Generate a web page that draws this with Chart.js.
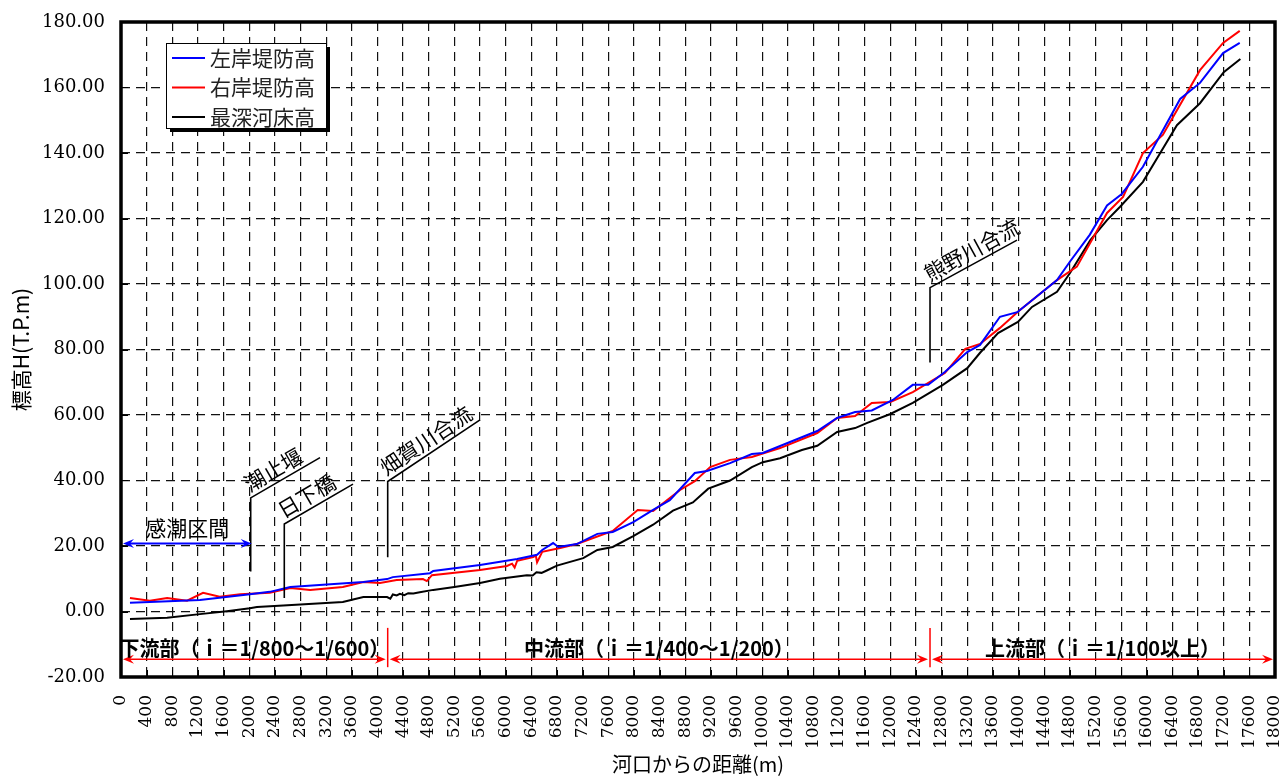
<!DOCTYPE html>
<html>
<head>
<meta charset="utf-8">
<script src="https://cdn.jsdelivr.net/npm/chart.js@4.4.0/dist/chart.umd.min.js"></script>
<style>
  html, body { margin: 0; padding: 0; background: #fff; }
</style>
</head>
<body>
<canvas id="mycanvas" width="1285" height="776"></canvas>
<script>
// distance from river mouth (m) and elevation (T.P.m)
var leftDist = [140, 450, 1230, 2010, 2320, 2640, 3780, 4150, 4240, 4820, 4870, 5600, 6180, 6490, 6570, 6740, 6820, 7110, 7430, 7670, 7990, 8300, 8560, 8950, 9140, 9500, 9840, 10010, 10860, 11170, 11450, 11710, 12040, 12350, 12590, 12850, 13200, 13400, 13710, 13980, 14600, 14800, 15110, 15380, 15610, 15940, 16520, 16830, 17190, 17450];
var leftH = [2.7, 2.9, 3.5, 5.3, 6.0, 7.5, 9.0, 9.9, 10.5, 11.7, 12.4, 14.2, 16.0, 17.3, 18.8, 20.9, 19.7, 20.6, 23.7, 24.3, 27.3, 31.0, 34.0, 42.3, 42.9, 45.3, 48.1, 48.4, 55.1, 59.1, 60.9, 61.4, 64.6, 69.2, 69.2, 73.1, 79.2, 81.4, 90.0, 91.4, 101.2, 106.8, 115.0, 124.0, 127.5, 135.8, 156.5, 161.4, 170.5, 173.6];

var rightDist = [140, 450, 720, 1030, 1280, 1540, 1860, 2320, 2640, 2950, 3460, 3780, 4040, 4300, 4710, 4770, 4850, 5600, 6020, 6100, 6140, 6180, 6430, 6470, 6490, 6570, 6850, 7110, 7670, 8060, 8300, 8720, 8950, 9190, 9500, 9840, 10280, 10860, 11170, 11450, 11710, 12000, 12350, 12850, 13170, 13400, 13710, 13990, 14600, 14910, 15380, 15630, 15940, 16250, 16410, 16830, 17190, 17450];
var rightH = [4.1, 3.3, 4.1, 3.3, 5.7, 4.5, 5.3, 5.7, 7.2, 6.6, 7.5, 9.0, 8.7, 9.6, 9.9, 9.3, 11.1, 12.7, 13.9, 14.6, 13.4, 15.5, 16.6, 17.1, 15.0, 18.2, 19.4, 20.6, 24.6, 31.0, 30.7, 37.1, 39.8, 44.1, 46.3, 47.2, 49.9, 54.5, 59.1, 59.7, 63.7, 64.0, 67.0, 72.8, 80.2, 81.7, 86.6, 91.5, 101.2, 105.3, 121.7, 126.6, 140.0, 145.5, 151.0, 165.3, 173.6, 177.3];

var bedDist = [140, 720, 1230, 1650, 2010, 2120, 2530, 3460, 3780, 4150, 4200, 4240, 4300, 4350, 4420, 4480, 4560, 4660, 4870, 5200, 5600, 5910, 6150, 6330, 6420, 6480, 6560, 6650, 6800, 7210, 7430, 7670, 7990, 8300, 8610, 8920, 9160, 9500, 9840, 10010, 10280, 10620, 10860, 11170, 11450, 11640, 12000, 12350, 12820, 13200, 13400, 13680, 13990, 14210, 14600, 14800, 15120, 15380, 15580, 15940, 16210, 16470, 16830, 17200, 17460];
var bedH = [-2.3, -1.9, -0.8, 0.1, 1.0, 1.4, 1.8, 2.9, 4.4, 4.4, 3.9, 5.2, 4.9, 5.4, 5.0, 5.6, 5.5, 5.9, 6.6, 7.5, 8.7, 10.0, 10.6, 11.1, 11.0, 12.0, 11.8, 12.6, 14.0, 16.3, 18.8, 19.7, 23.0, 26.5, 30.8, 33.3, 37.5, 40.0, 44.1, 45.6, 46.8, 49.3, 50.6, 54.8, 56.0, 57.6, 60.3, 63.7, 69.2, 74.3, 79.0, 85.0, 88.4, 93.0, 97.6, 103.3, 113.4, 119.5, 123.5, 131.2, 140.0, 148.5, 155.2, 164.7, 168.7];

var seriesNames = ['左岸堤防高', '右岸堤防高', '最深河床高'];
var seriesColors = ['#0000ff', '#ff0000', '#000000'];

// axes
var xMin = 0, xMax = 18000, xStep = 400;
var yMin = -20, yMax = 180, yStep = 20;
var xTitle = '河口からの距離(m)';
var yTitle = '標高H(T.P.m)';

// leader-line notes: vertical line at dist from low to high, then a slanted line to the end point
var noteNames = ['潮止堰', '日下橋', '畑賀川合流', '熊野川合流'];
var noteDist = [2023, 2547, 4160, 12619];
var noteLow = [12.2, 4.1, 16.6, 76.0];
var noteHigh = [34.7, 26.7, 39.7, 98.9];
var noteEndDist = [3104, 3619, 5600, 13976];
var noteEndH = [47.0, 38.9, 58.5, 113.4];

// tidal reach
var tideName = '感潮区間';
var tideFrom = 0, tideTo = 2023, tideH = 20.8, tideTextH = 25.4;

// river reaches along the bottom
var reachNames = ['下流部（ｉ＝1/800～1/600）', '中流部（ｉ＝1/400～1/200）', '上流部（ｉ＝1/100以上）'];
var reachBounds = [0, 4160, 12619, 18000];
var reachArrowH = -14.6, reachTextH = -11.2, reachSepTop = -5, reachSepBottom = -17;

var CJK = '"Noto Sans CJK JP", "Noto Sans", sans-serif';

function toPoints(xs, ys) {
  var pts = [];
  for (var i = 0; i < xs.length; i++) {
    pts.push({ x: xs[i], y: ys[i] });
  }
  return pts;
}

function arrowHead(ctx, x, y, dir) {// dir = -1 points left, 1 points right
  ctx.beginPath();
  ctx.moveTo(x, y);
  ctx.lineTo(x - dir * 11, y - 4.5);
  ctx.lineTo(x - dir * 7, y);
  ctx.lineTo(x - dir * 11, y + 4.5);
  ctx.closePath();
  ctx.fill();
}

var notesPlugin = {
  id: 'profileNotes',
  afterDatasetsDraw: function (chart) {
    var ctx = chart.ctx;
    var sx = chart.scales.x, sy = chart.scales.y;
    ctx.save();

    // leader lines with slanted names
    for (var i = 0; i < noteNames.length; i++) {
      var x0 = sx.getPixelForValue(noteDist[i]);
      var yl = sy.getPixelForValue(noteLow[i]);
      var yh = sy.getPixelForValue(noteHigh[i]);
      var x1 = sx.getPixelForValue(noteEndDist[i]);
      var y1 = sy.getPixelForValue(noteEndH[i]);
      ctx.strokeStyle = '#000';
      ctx.lineWidth = 1.6;
      ctx.beginPath();
      ctx.moveTo(x0, yl);
      ctx.lineTo(x0, yh);
      ctx.lineTo(x1, y1);
      ctx.stroke();
      ctx.save();
      ctx.translate(x0, yh);
      ctx.rotate(Math.atan2(y1 - yh, x1 - x0));
      ctx.fillStyle = '#000';
      ctx.font = '21px ' + CJK;
      ctx.textAlign = 'left';
      ctx.textBaseline = 'alphabetic';
      ctx.fillText(noteNames[i], 2, -5);
      ctx.restore();
    }

    // tidal reach arrow
    var ta = sx.getPixelForValue(tideFrom) + 2, tb = sx.getPixelForValue(tideTo) + 1;
    var ty = sy.getPixelForValue(tideH);
    ctx.strokeStyle = '#0000ff';
    ctx.fillStyle = '#0000ff';
    ctx.lineWidth = 2;
    ctx.beginPath();
    ctx.moveTo(ta + 6, ty);
    ctx.lineTo(tb - 6, ty);
    ctx.stroke();
    arrowHead(ctx, ta, ty, -1);
    arrowHead(ctx, tb, ty, 1);
    ctx.fillStyle = '#000';
    ctx.font = '21px ' + CJK;
    ctx.textAlign = 'center';
    ctx.textBaseline = 'middle';
    ctx.fillText(tideName, (ta + tb) / 2, sy.getPixelForValue(tideTextH));

    // reaches along the bottom
    var ay = sy.getPixelForValue(reachArrowH);
    for (var r = 0; r < reachNames.length; r++) {
      var ra = sx.getPixelForValue(reachBounds[r]) + 2;
      var rb = sx.getPixelForValue(reachBounds[r + 1]) - 2;
      ctx.strokeStyle = '#ff0000';
      ctx.fillStyle = '#ff0000';
      ctx.lineWidth = 1.5;
      ctx.beginPath();
      ctx.moveTo(ra + 6, ay);
      ctx.lineTo(rb - 6, ay);
      ctx.stroke();
      arrowHead(ctx, ra, ay, -1);
      arrowHead(ctx, rb, ay, 1);
      if (r > 0) {
        var sp = sx.getPixelForValue(reachBounds[r]);
        ctx.beginPath();
        ctx.moveTo(sp, sy.getPixelForValue(reachSepTop));
        ctx.lineTo(sp, sy.getPixelForValue(reachSepBottom));
        ctx.stroke();
      }
      ctx.fillStyle = '#000';
      ctx.font = 'bold 20px ' + CJK;
      ctx.textAlign = 'center';
      ctx.textBaseline = 'middle';
      ctx.fillText(reachNames[r], (ra + rb) / 2, sy.getPixelForValue(reachTextH));
    }
    ctx.restore();
  },
  afterDraw: function (chart) {
    var ctx = chart.ctx, a = chart.chartArea;
    var sx = chart.scales.x, sy = chart.scales.y;
    ctx.save();

    // small inner ticks on bottom and left axes
    ctx.strokeStyle = '#000';
    ctx.lineWidth = 1;
    ctx.beginPath();
    sx.ticks.forEach(function (t) {
      var px = Math.round(sx.getPixelForValue(t.value)) + 0.5;
      ctx.moveTo(px, a.bottom);
      ctx.lineTo(px, a.bottom - 7);
    });
    sy.ticks.forEach(function (t) {
      var py = Math.round(sy.getPixelForValue(t.value)) + 0.5;
      ctx.moveTo(a.left, py);
      ctx.lineTo(a.left + 7, py);
    });
    ctx.stroke();

    // heavy frame
    ctx.lineWidth = 3.5;
    ctx.strokeRect(a.left, a.top, a.right - a.left, a.bottom - a.top);

    // legend box with drop shadow
    var bx = a.left + 45, by = a.top + 21, bw = 160, bh = 85;
    ctx.fillStyle = '#000';
    ctx.fillRect(bx + 4, by + 4, bw, bh);
    ctx.fillStyle = '#fff';
    ctx.fillRect(bx, by, bw, bh);
    ctx.lineWidth = 1;
    ctx.strokeRect(bx + 0.5, by + 0.5, bw, bh);
    ctx.font = '21px ' + CJK;
    ctx.textAlign = 'left';
    ctx.textBaseline = 'middle';
    for (var i = 0; i < seriesNames.length; i++) {
      var ry = by + 15 + i * 29.5;
      ctx.strokeStyle = seriesColors[i];
      ctx.lineWidth = 2;
      ctx.beginPath();
      ctx.moveTo(bx + 6, ry);
      ctx.lineTo(bx + 39, ry);
      ctx.stroke();
      ctx.fillStyle = '#222';
      ctx.fillText(seriesNames[i], bx + 44, ry);
    }
    ctx.restore();
  }
};

var chartdata = {
  datasets: [
    { label: seriesNames[0], data: toPoints(leftDist, leftH), borderColor: seriesColors[0] },
    { label: seriesNames[1], data: toPoints(rightDist, rightH), borderColor: seriesColors[1] },
    { label: seriesNames[2], data: toPoints(bedDist, bedH), borderColor: seriesColors[2] }
  ]
};
chartdata.datasets.forEach(function (d) {
  d.borderWidth = 2;
  d.pointRadius = 0;
  d.fill = false;
  d.tension = 0;
});

var ctx = document.getElementById('mycanvas');
var LineGraph = new Chart(ctx, {
  type: 'line',
  data: chartdata,
  plugins: [notesPlugin],
  options: {
    responsive: false,
    animation: false,
    events: [],
    layout: { padding: { top: 22, right: 10, left: 0, bottom: 0 } },
    plugins: { legend: { display: false }, tooltip: { enabled: false } },
    scales: {
      x: {
        type: 'linear',
        min: xMin, max: xMax,
        afterFit: function (s) {
          s.height = 99;
          s.paddingLeft = 0;
          s.paddingRight = 0;
        },
        ticks: {
          stepSize: xStep,
          autoSkip: false,
          minRotation: 90, maxRotation: 90,
          padding: 18,
          color: '#000',
          font: { family: 'DejaVu Serif', size: 17 },
          callback: function (v) { return String(v); }
        },
        grid: { color: '#111', lineWidth: 1.2, drawTicks: false },
        border: { display: false, dash: [9, 6] },
        title: {
          display: true, text: xTitle, color: '#000',
          font: { family: CJK, size: 20 },
          padding: { top: 0, bottom: 0 }
        }
      },
      y: {
        min: yMin, max: yMax,
        afterFit: function (s) {
          s.width = 121;
          s.paddingTop = 0;
          s.paddingBottom = 0;
        },
        ticks: {
          stepSize: yStep,
          autoSkip: false,
          padding: 16,
          color: '#000',
          font: { family: 'DejaVu Serif', size: 18 },
          callback: function (v) { return v.toFixed(2); }
        },
        grid: { color: '#111', lineWidth: 1.2, drawTicks: false },
        border: { display: false, dash: [9, 6] },
        title: {
          display: true, text: yTitle, color: '#000',
          font: { family: CJK, size: 21 },
          padding: { top: 8, bottom: 0 }
        }
      }
    }
  }
});
</script>
</body>
</html>
